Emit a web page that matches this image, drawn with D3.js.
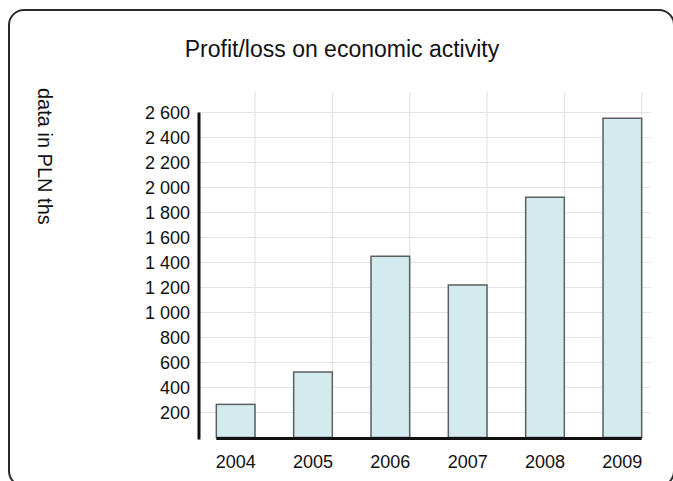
<!DOCTYPE html>
<html>
<head>
<meta charset="utf-8">
<script src="https://cdn.jsdelivr.net/npm/d3@7"></script>
<style>
  body { margin: 0; background: #fff; }
  svg { display: block; font-family: "Liberation Sans", Arial, sans-serif; }
</style>
</head>
<body>
<svg id="chart" width="673" height="481"></svg>
<script>
(() => {

    // chart data
    const years = ['2004', '2005', '2006', '2007', '2008', '2009'];
    const profit = [265, 524, 1450, 1220, 1922, 2554];
    const y_ticks = [200, 400, 600, 800, 1000, 1200, 1400, 1600, 1800, 2000, 2200, 2400, 2600];

    const title = 'Profit/loss on economic activity';
    const y_title = 'data in PLN ths';

    // define chart parameters
    const left = 197;
    const right = 661;
    const top = 112.5;
    const bottom = 437.5;

    const bar_fill = '#d3eaee';
    const bar_stroke = '#5a5f60';
    const grid_color = '#e4e4e4';

    const svg = d3.select('#chart');

    const locale = d3.formatLocale({ decimal: '.', thousands: ' ', grouping: [3], currency: ['', ''] });
    const fmt = locale.format(',');

    // frame
    svg.append('rect')
        .attr('x', 9).attr('y', 10)
        .attr('width', 665).attr('height', 476)
        .attr('rx', 15)
        .attr('fill', '#fff')
        .attr('stroke', '#2a2a2a')
        .attr('stroke-width', 2);

    // scales
    let x_scale = d3.scaleBand()
        .domain(years)
        .range([left, right])
        .paddingInner(0.5)
        .paddingOuter(0.25);

    let y_scale = d3.scaleLinear()
        .domain([0, 2600])
        .range([bottom, top]);

    // grid
    svg.append('g')
        .selectAll('line')
        .data(y_ticks)
        .enter()
        .append('line')
        .attr('x1', left + 2).attr('x2', 651)
        .attr('y1', (d) => y_scale(d)).attr('y2', (d) => y_scale(d))
        .attr('stroke', grid_color)
        .attr('stroke-width', 1.2);

    svg.append('g')
        .selectAll('line')
        .data(years)
        .enter()
        .append('line')
        .attr('x1', (d) => x_scale(d) + x_scale.bandwidth())
        .attr('x2', (d) => x_scale(d) + x_scale.bandwidth())
        .attr('y1', y_scale(2600) - 20).attr('y2', bottom)
        .attr('stroke', grid_color)
        .attr('stroke-width', 1.2);

    // bars
    svg.append('g')
        .selectAll('rect')
        .data(years)
        .enter()
        .append('rect')
        .attr('x', (d) => x_scale(d))
        .attr('y', (d, i) => y_scale(profit[i]))
        .attr('width', x_scale.bandwidth())
        .attr('height', (d, i) => y_scale(0) - y_scale(profit[i]))
        .attr('fill', bar_fill)
        .attr('stroke', bar_stroke)
        .attr('stroke-width', 1.5);

    // axes lines
    svg.append('line')
        .attr('x1', left + 2).attr('x2', left + 2)
        .attr('y1', top).attr('y2', bottom + 2)
        .attr('stroke', '#111').attr('stroke-width', 3);

    svg.append('line')
        .attr('x1', x_scale(years[0])).attr('x2', x_scale(years[years.length - 1]) + x_scale.bandwidth())
        .attr('y1', bottom + 1).attr('y2', bottom + 1)
        .attr('stroke', '#111').attr('stroke-width', 3);

    // y axis labels
    let y_axis = d3.axisLeft(y_scale)
        .tickValues(y_ticks)
        .tickSize(0)
        .tickPadding(0)
        .tickFormat(fmt);

    svg.append('g')
        .attr('transform', 'translate(190,0)')
        .call(y_axis)
        .call((g) => g.select('.domain').remove())
        .selectAll('text')
        .attr('dy', '0.36em')
        .style('font-size', '18px')
        .style('font-family', '"Liberation Sans", Arial, sans-serif')
        .style('fill', '#111');

    // x axis labels
    let x_axis = d3.axisBottom(x_scale)
        .tickSize(0)
        .tickPadding(0);

    svg.append('g')
        .attr('transform', `translate(0,${bottom + 18})`)
        .call(x_axis)
        .call((g) => g.select('.domain').remove())
        .selectAll('text')
        .style('font-size', '18px')
        .style('font-family', '"Liberation Sans", Arial, sans-serif')
        .style('fill', '#111');

    // titles
    svg.append('text')
        .attr('x', 342)
        .attr('y', 57)
        .attr('text-anchor', 'middle')
        .style('font-size', '23px')
        .style('fill', '#111')
        .text(title);

    svg.append('text')
        .attr('transform', 'translate(38,88) rotate(90)')
        .style('font-size', '20px')
        .style('fill', '#111')
        .text(y_title);

})();
</script>
</body>
</html>
